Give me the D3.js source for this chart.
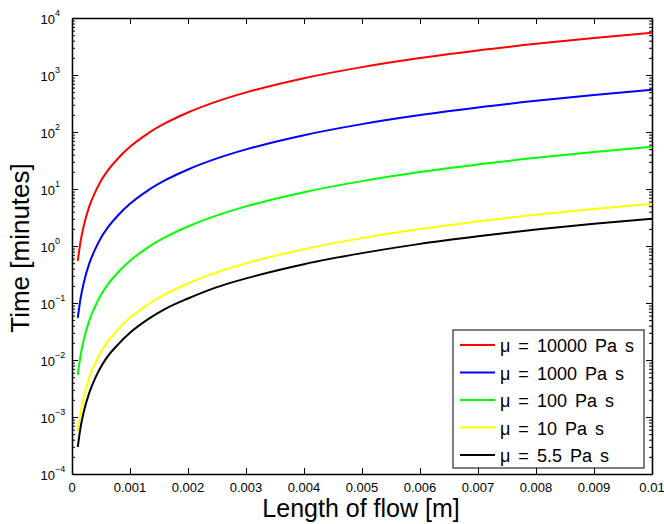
<!DOCTYPE html>
<html>
<head>
<meta charset="utf-8">
<script src="https://cdn.jsdelivr.net/npm/d3@7"></script>
<style>
  body { margin: 0; background: #fff; }
  text { font-family: "Liberation Sans", Arial, Helvetica, sans-serif; }
</style>
</head>
<body>
<svg width="664" height="524"></svg>
<script>
// flow length [m]
const lengths = [0.0001, 0.00015, 0.0002, 0.0003, 0.0004, 0.0005, 0.0006, 0.0008, 0.001,
  0.0013, 0.0016, 0.002, 0.0025, 0.003, 0.004, 0.005, 0.006, 0.007, 0.008, 0.009, 0.01];

// time [minutes]
const mu10000 = [0.55, 1.24, 2.2, 5, 8.8, 14, 20, 35, 55, 93, 141, 220, 344, 495, 880, 1375, 1980, 2700, 3520, 4450, 5500];
const mu1000 = [0.055, 0.124, 0.22, 0.5, 0.88, 1.4, 2, 3.5, 5.5, 9.3, 14.1, 22, 34.4, 49.5, 88, 137.5, 198, 270, 352, 445, 550];
const mu100 = [0.0055, 0.0124, 0.022, 0.05, 0.088, 0.14, 0.2, 0.35, 0.55, 0.93, 1.41, 2.2, 3.44, 4.95, 8.8, 13.75, 19.8, 27, 35.2, 44.5, 55];
const mu10 = [0.00055, 0.00124, 0.0022, 0.005, 0.0088, 0.014, 0.02, 0.035, 0.055, 0.093, 0.141, 0.22, 0.344, 0.495, 0.88, 1.375, 1.98, 2.7, 3.52, 4.45, 5.5];
const mu5_5 = [0.0003, 0.00068, 0.0012, 0.0027, 0.0048, 0.0076, 0.011, 0.019, 0.03, 0.051, 0.078, 0.12, 0.19, 0.27, 0.48, 0.75, 1.09, 1.48, 1.94, 2.45, 3.0];

const seriesLabels = ["\u03bc = 10000 Pa s", "\u03bc = 1000 Pa s", "\u03bc = 100 Pa s", "\u03bc = 10 Pa s", "\u03bc = 5.5 Pa s"];
const seriesColors = ["#ff0000", "#0000ff", "#00ff00", "#ffff00", "#000000"];
const seriesValues = [mu10000, mu1000, mu100, mu10, mu5_5];

const xTicks = [0, 0.001, 0.002, 0.003, 0.004, 0.005, 0.006, 0.007, 0.008, 0.009, 0.01];
const xTickLabels = ["0", "0.001", "0.002", "0.003", "0.004", "0.005", "0.006", "0.007", "0.008", "0.009", "0.01"];
const yExponents = [-4, -3, -2, -1, 0, 1, 2, 3, 4];

const svg = d3.select("svg");
const pLeft = 72, pRight = 652, pTop = 18, pBottom = 474;

const x = d3.scaleLinear().domain([0, 0.01]).range([pLeft, pRight]);
const y = d3.scaleLog().domain([1e-4, 1e4]).range([pBottom, pTop]);

const yMajor = yExponents.map(e => Math.pow(10, e));
const yMinor = y.ticks().filter(v => !yMajor.some(m => Math.abs(v / m - 1) < 1e-9));

// axes: ticks point inward, box on all four sides
function styleAxis(g) {
  g.selectAll("path.domain").attr("stroke", "#000").attr("stroke-width", 1.3);
  g.selectAll(".tick line").attr("stroke", "#000").attr("stroke-width", 1);
  g.selectAll(".tick text").remove();
}

svg.append("g").attr("transform", `translate(0,${pBottom})`)
  .call(d3.axisBottom(x).tickValues(xTicks).tickSizeInner(-6).tickSizeOuter(0).tickFormat(""))
  .call(styleAxis);
svg.append("g").attr("transform", `translate(0,${pTop})`)
  .call(d3.axisTop(x).tickValues(xTicks).tickSizeInner(-6).tickSizeOuter(0).tickFormat(""))
  .call(styleAxis);

svg.append("g").attr("transform", `translate(${pLeft},0)`)
  .call(d3.axisLeft(y).tickValues(yMajor).tickSizeInner(-6).tickSizeOuter(0).tickFormat(""))
  .call(styleAxis);
svg.append("g").attr("transform", `translate(${pLeft},0)`)
  .call(d3.axisLeft(y).tickValues(yMinor).tickSizeInner(-3).tickSizeOuter(0).tickFormat(""))
  .call(styleAxis);
svg.append("g").attr("transform", `translate(${pRight},0)`)
  .call(d3.axisRight(y).tickValues(yMajor).tickSizeInner(-6).tickSizeOuter(0).tickFormat(""))
  .call(styleAxis);
svg.append("g").attr("transform", `translate(${pRight},0)`)
  .call(d3.axisRight(y).tickValues(yMinor).tickSizeInner(-3).tickSizeOuter(0).tickFormat(""))
  .call(styleAxis);

// x tick labels
svg.append("g").selectAll("text")
  .data(xTicks)
  .join("text")
  .attr("x", d => x(d))
  .attr("y", pBottom + 18)
  .attr("text-anchor", "middle")
  .attr("font-size", "13px")
  .text((d, i) => xTickLabels[i]);

// y tick labels 10^n
svg.append("g").selectAll("text")
  .data(yExponents)
  .join("text")
  .attr("x", pLeft - 17)
  .attr("y", d => y(Math.pow(10, d)) + 6)
  .attr("text-anchor", "end")
  .attr("font-size", "13px")
  .text("10");
svg.append("g").selectAll("text")
  .data(yExponents)
  .join("text")
  .attr("x", pLeft - 17)
  .attr("y", d => y(Math.pow(10, d)) - 2)
  .attr("font-size", "9px")
  .text(d => d < 0 ? "\u2212" + (-d) : d);

// curves
const line = d3.line()
  .x((d, i) => x(lengths[i]))
  .y(d => y(d))
  .curve(d3.curveMonotoneX);

svg.append("g").selectAll("path")
  .data(seriesValues)
  .join("path")
  .attr("d", d => line(d))
  .attr("fill", "none")
  .attr("stroke", (d, i) => seriesColors[i])
  .attr("stroke-width", 2);

// axis titles
svg.append("text")
  .attr("x", 361)
  .attr("y", 517)
  .attr("text-anchor", "middle")
  .attr("font-size", "25px")
  .text("Length of flow [m]");

svg.append("text")
  .attr("transform", "translate(29,248) rotate(-90)")
  .attr("text-anchor", "middle")
  .attr("font-size", "26px")
  .text("Time [minutes]");

// legend
const legend = svg.append("g");
legend.append("rect")
  .attr("x", 453).attr("y", 330)
  .attr("width", 191).attr("height", 138)
  .attr("fill", "#fff").attr("stroke", "#000").attr("stroke-width", 1);

const rows = legend.selectAll("g.row")
  .data(seriesLabels)
  .join("g")
  .attr("class", "row")
  .attr("transform", (d, i) => `translate(0,${345 + i * 27.5})`);
rows.append("line")
  .attr("x1", 460).attr("x2", 495)
  .attr("stroke", (d, i) => seriesColors[i])
  .attr("stroke-width", 2);
rows.append("text")
  .attr("x", 500)
  .attr("y", 7)
  .attr("font-size", "18px")
  .attr("word-spacing", "3px")
  .text(d => d);
</script>
</body>
</html>
